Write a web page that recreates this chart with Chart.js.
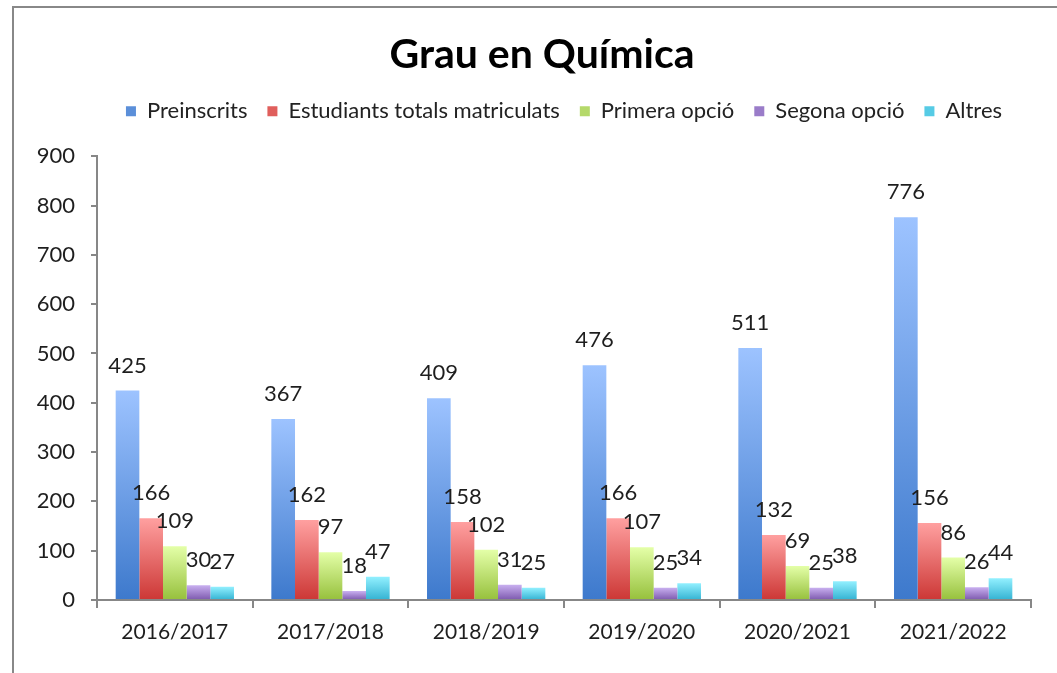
<!DOCTYPE html>
<html><head><meta charset="utf-8">
<script src="https://cdn.jsdelivr.net/npm/chart.js@4.4.1/dist/chart.umd.min.js"></script>
<style>
html,body{margin:0;padding:0;background:#fff;overflow:hidden;width:1057px;height:673px;}
#frame{position:absolute;left:12px;top:6px;width:1056px;height:680px;border-left:2px solid #888;border-top:2px solid #888;}
canvas{display:block;}
</style></head><body>
<div id="frame"><canvas id="c" width="1056" height="680"></canvas></div>
<script>
const categories = ['2016/2017','2017/2018','2018/2019','2019/2020','2020/2021','2021/2022'];
const seriesNames = ['Preinscrits','Estudiants totals matriculats','Primera opció','Segona opció','Altres'];
const preinscrits = [425, 367, 409, 476, 511, 776];
const matriculats = [166, 162, 158, 166, 132, 156];
const primeraOpcio = [109, 97, 102, 107, 69, 86];
const segonaOpcio = [30, 18, 31, 25, 25, 26];
const altres = [27, 47, 25, 34, 38, 44];
const yMin = 0, yMax = 900, yStep = 100;
const titleText = 'Grau en Química';

const FONT = 'Lato';
const colorsTop = ['#9dc3ff', '#ffa0a0', '#e4ffa8', '#c9b0f0', '#92f0ff'];
const colorsBot = ['#3d79cc', '#cc3735', '#96c03c', '#7c58ad', '#33b2d2'];
const colorsMid = ['#5b8fd9', '#e05f5c', '#b5d96a', '#9a7cc9', '#56cbe5'];

function grad(i) {
  return (ctx) => {
    const chart = ctx.chart;
    const ys = chart.scales && chart.scales.y;
    if (ctx.type !== 'data' || !ys || !chart.chartArea) return colorsMid[i];
    const y0 = ys.getPixelForValue(ctx.raw), y1 = ys.getPixelForValue(0);
    if (!isFinite(y0) || !isFinite(y1) || y0 === y1) return colorsMid[i];
    const g = chart.ctx.createLinearGradient(0, y0, 0, y1);
    g.addColorStop(0, colorsTop[i]);
    g.addColorStop(1, colorsBot[i]);
    return g;
  };
}

const seriesData = [preinscrits, matriculats, primeraOpcio, segonaOpcio, altres];

const valueLabels = {
  id: 'valueLabels',
  afterDatasetsDraw(chart) {
    const c = chart.ctx;
    c.save();
    c.font = '22px ' + FONT;
    c.fillStyle = '#1e1e1e';
    c.textAlign = 'center';
    c.textBaseline = 'middle';
    chart.data.datasets.forEach((ds, i) => {
      const meta = chart.getDatasetMeta(i);
      meta.data.forEach((bar, j) => {
        c.fillText(String(ds.data[j]), bar.x, bar.y - 25);
      });
    });
    c.restore();
  }
};

function makeSpacer(position, size) {
  const horiz = position === 'top' || position === 'bottom';
  return {
    position, weight: 100, fullSize: false, options: {},
    width: 0, height: 0, left: 0, top: 0, right: 0, bottom: 0,
    isHorizontal() { return horiz; },
    update(maxW, maxH) {
      if (horiz) { this.width = maxW; this.height = size; }
      else { this.width = size; this.height = maxH; }
      return {};
    },
    draw() {}
  };
}

const spacer = {
  id: 'spacer',
  afterInit(chart) {
    Chart.layouts.addBox(chart, makeSpacer('top', 24));
    Chart.layouts.addBox(chart, makeSpacer('right', 39));
  }
};

new Chart(document.getElementById('c'), {
  type: 'bar',
  data: {
    labels: categories,
    datasets: seriesNames.map((n, i) => ({
      label: n,
      data: seriesData[i],
      backgroundColor: grad(i),
      borderWidth: 0,
      categoryPercentage: 0.76,
      barPercentage: 1.0
    }))
  },
  options: {
    responsive: false,
    animation: false,
    layout: { padding: { left: 0, right: 0, top: 0, bottom: 28 } },
    plugins: {
      tooltip: { enabled: false },
      title: {
        display: true, text: titleText, color: '#000',
        font: { family: FONT, size: 41, weight: 'bold' },
        padding: { top: 22, bottom: 1 }
      },
      legend: {
        display: true, position: 'top', fullSize: false,
        labels: {
          font: { family: FONT, size: 22 }, color: '#222',
          boxWidth: 10, boxHeight: 10, padding: 20,
          generateLabels(chart) {
            return chart.data.datasets.map((ds, i) => ({
              text: ds.label, fillStyle: colorsMid[i], strokeStyle: colorsMid[i],
              lineWidth: 0, hidden: false, datasetIndex: i, fontColor: '#222'
            }));
          }
        }
      }
    },
    scales: {
      x: {
        grid: { display: true, drawOnChartArea: false, drawTicks: true, tickLength: 8, color: '#878787', lineWidth: 2, offset: true },
        border: { display: true, color: '#878787', width: 2 },
        ticks: { font: { family: FONT, size: 21 }, color: '#1e1e1e', padding: 12, maxRotation: 0 },
        afterFit(s) { s.height = 60; }
      },
      y: {
        min: yMin, max: yMax,
        grid: { display: true, drawOnChartArea: false, drawTicks: true, tickLength: 6, color: '#878787', lineWidth: 2 },
        border: { display: true, color: '#878787', width: 2 },
        ticks: { stepSize: yStep, font: { family: FONT, size: 22 }, color: '#1e1e1e', padding: 16 },
        afterFit(s) { s.width = 83; }
      }
    }
  },
  plugins: [valueLabels, spacer]
});
</script>
</body></html>
